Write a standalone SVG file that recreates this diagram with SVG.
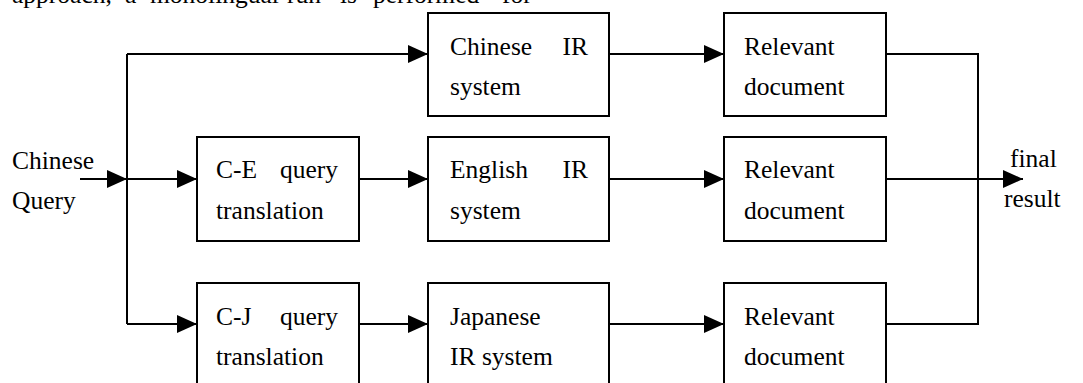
<svg xmlns="http://www.w3.org/2000/svg" width="1083" height="383" viewBox="0 0 1083 383">
  <defs>
    <marker id="arr" markerUnits="userSpaceOnUse" markerWidth="20" markerHeight="18" refX="20" refY="9" orient="auto">
      <path d="M0,0 L20,9 L0,18 Z" fill="#000"/>
    </marker>
    <style>
      text { font-size: 25.5px; fill: #000; }
      .box { fill: #fff; stroke: #000; stroke-width: 2; }
      .ln { fill: none; stroke: #000; stroke-width: 2; }
      .a { marker-end: url(#arr); }
    </style>
  </defs>
  <rect width="1083" height="383" fill="#fff"/>

  <g font-family="'Liberation Serif', 'DejaVu Serif', serif">
  <text id="page-text" y="3"><tspan x="12">approach,</tspan><tspan x="125">a</tspan><tspan x="150">monolingual</tspan><tspan x="287">run</tspan><tspan x="340">is</tspan><tspan x="373">performed</tspan><tspan x="502">for</tspan></text>

  <g id="connectors">
    <line class="ln a" x1="80" y1="179" x2="127" y2="179"/>
    <polyline class="ln" points="127,324 127,54"/>
    <line class="ln a" x1="127" y1="54" x2="428" y2="54"/>
    <line class="ln a" x1="127" y1="179" x2="197" y2="179"/>
    <line class="ln a" x1="127" y1="324" x2="197" y2="324"/>
    <line class="ln a" x1="359" y1="179" x2="428" y2="179"/>
    <line class="ln a" x1="359" y1="324" x2="428" y2="324"/>
    <line class="ln a" x1="609" y1="54" x2="724" y2="54"/>
    <line class="ln a" x1="609" y1="179" x2="724" y2="179"/>
    <line class="ln a" x1="609" y1="324" x2="724" y2="324"/>
    <polyline class="ln" points="886,54 978,54 978,324 886,324"/>
    <line class="ln a" x1="886" y1="179" x2="1023" y2="179"/>
  </g>

  <g id="input">
    <text x="12" y="169">Chinese</text>
    <text x="12" y="209">Query</text>
  </g>
  <g id="output">
    <text x="1010" y="167">final</text>
    <text x="1004" y="207">result</text>
  </g>

  <g id="chinese-ir">
    <rect class="box" x="428" y="13" width="181" height="103"/>
    <text y="55"><tspan x="450">Chinese</tspan><tspan x="588" text-anchor="end">IR</tspan></text>
    <text x="450" y="95">system</text>
  </g>
  <g id="relevant-1">
    <rect class="box" x="724" y="13" width="162" height="103"/>
    <text x="744" y="55">Relevant</text>
    <text x="744" y="95">document</text>
  </g>

  <g id="ce-translation">
    <rect class="box" x="197" y="137" width="162" height="104"/>
    <text y="178"><tspan x="216">C-E</tspan><tspan x="338" text-anchor="end">query</tspan></text>
    <text x="216" y="219">translation</text>
  </g>
  <g id="english-ir">
    <rect class="box" x="428" y="137" width="181" height="104"/>
    <text y="178"><tspan x="450">English</tspan><tspan x="588" text-anchor="end">IR</tspan></text>
    <text x="450" y="219">system</text>
  </g>
  <g id="relevant-2">
    <rect class="box" x="724" y="137" width="162" height="104"/>
    <text x="744" y="178">Relevant</text>
    <text x="744" y="219">document</text>
  </g>

  <g id="cj-translation">
    <rect class="box" x="197" y="283" width="162" height="110"/>
    <text y="325"><tspan x="216">C-J</tspan><tspan x="338" text-anchor="end">query</tspan></text>
    <text x="216" y="365">translation</text>
  </g>
  <g id="japanese-ir">
    <rect class="box" x="428" y="283" width="181" height="110"/>
    <text x="450" y="325">Japanese</text>
    <text x="450" y="365">IR system</text>
  </g>
  <g id="relevant-3">
    <rect class="box" x="724" y="283" width="162" height="110"/>
    <text x="744" y="325">Relevant</text>
    <text x="744" y="365">document</text>
  </g>
  </g>
</svg>
